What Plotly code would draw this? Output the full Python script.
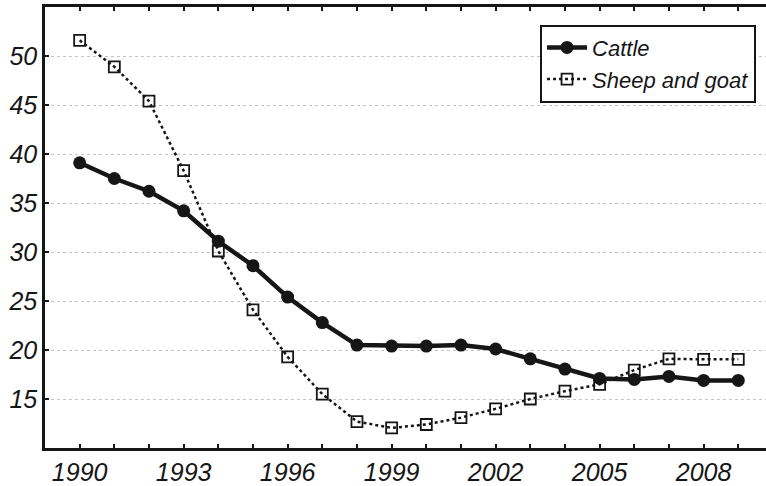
import plotly.graph_objects as go

years = list(range(1990, 2010))
cattle = [39.1, 37.5, 36.2, 34.2, 31.1, 28.6, 25.4, 22.8, 20.5, 20.4,
          20.4, 20.5, 20.1, 19.1, 18.05, 17.1, 17.0, 17.3, 16.9, 16.9]
sheep_goat = [51.6, 48.9, 45.4, 38.3, 30.1, 24.1, 19.3, 15.5, 12.7, 12.05,
              12.4, 13.1, 14.0, 15.0, 15.8, 16.5, 17.95, 19.1, 19.05, 19.05]
x_tick_labels = [str(y) if (y - 1990) % 3 == 0 else "" for y in years]
y_ticks = [15, 20, 25, 30, 35, 40, 45, 50]

FONT = "Liberation Sans, Arial, sans-serif"
INK = "#161616"

fig = go.Figure()
fig.add_trace(go.Scatter(
    x=years, y=cattle, name="Cattle", mode="lines+markers",
    line=dict(color=INK, width=4.5),
    marker=dict(symbol="circle", size=13, color=INK),
))
fig.add_trace(go.Scatter(
    x=years, y=sheep_goat, name="Sheep and goat", mode="lines+markers",
    line=dict(color=INK, width=2.5, dash="dot"),
    marker=dict(symbol="square-open", size=11, color=INK, line=dict(width=1.8, color=INK)),
))

fig.update_layout(
    width=766, height=486,
    margin=dict(l=45, r=0, t=7, b=34),
    paper_bgcolor="white", plot_bgcolor="white",
    font=dict(family=FONT, color=INK),
    showlegend=True,
    legend=dict(
        x=0.6866, y=0.96, xanchor="left", yanchor="top",
        bgcolor="white", bordercolor=INK, borderwidth=2,
        font=dict(size=22, style="italic", family=FONT, color=INK),
        itemwidth=40, tracegroupgap=0,
    ),
)
fig.update_xaxes(
    range=[1989, 2009.8],
    tickmode="array", tickvals=years, ticktext=x_tick_labels,
    ticks="inside", ticklen=4, tickwidth=1.5, tickcolor=INK,
    showline=True, linecolor=INK, linewidth=2.5, mirror="allticks",
    showgrid=False, zeroline=False,
    tickfont=dict(size=25, style="italic", family=FONT, color=INK),
)
fig.update_yaxes(
    range=[10, 55],
    tickmode="array", tickvals=y_ticks,
    ticks="inside", ticklen=4, tickwidth=1.5, tickcolor=INK,
    showline=True, linecolor=INK, linewidth=2.5, mirror=False,
    showgrid=True, gridcolor="#c4c4c4", gridwidth=1, griddash="dot",
    zeroline=False,
    tickfont=dict(size=25, style="italic", family=FONT, color=INK),
)

fig.write_html("out.html")
